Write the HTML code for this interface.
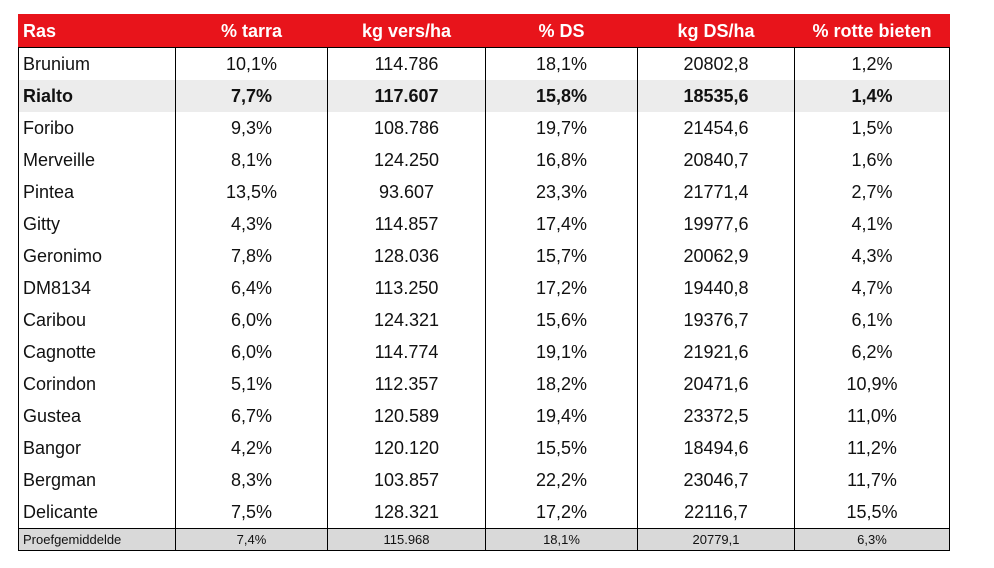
<!DOCTYPE html>
<html><head><meta charset="utf-8"><style>
body{margin:0;width:994px;height:568px;background:#fff;font-family:"Liberation Sans",sans-serif;overflow:hidden;position:relative}
table{position:absolute;left:18px;top:14px;border-collapse:collapse;width:931px;table-layout:fixed}
td,th{padding:0;height:32px;font-size:18px;color:#111;text-align:center;border-left:1px solid #000;border-right:1px solid #000;white-space:nowrap}
th{background:#e8141b;color:#fff;font-weight:bold;height:32px;border:1px solid #e8141b;border-bottom:1px solid #000}
td:first-child,th:first-child{text-align:left;padding-left:4px}
tr.hl td{background:#ececec;font-weight:bold}
tr.foot td{background:#d9d9d9;height:21px;font-size:13px;border:1px solid #000}
tr.last td{border-bottom:1px solid #000}
</style></head><body>
<table>
<colgroup><col style="width:157px"><col style="width:152px"><col style="width:158px"><col style="width:152px"><col style="width:157px"><col style="width:155px"></colgroup>
<tr><th>Ras</th><th>% tarra</th><th>kg vers/ha</th><th>% DS</th><th>kg DS/ha</th><th>% rotte bieten</th></tr>
<tr><td>Brunium</td><td>10,1%</td><td>114.786</td><td>18,1%</td><td>20802,8</td><td>1,2%</td></tr>
<tr class="hl"><td>Rialto</td><td>7,7%</td><td>117.607</td><td>15,8%</td><td>18535,6</td><td>1,4%</td></tr>
<tr><td>Foribo</td><td>9,3%</td><td>108.786</td><td>19,7%</td><td>21454,6</td><td>1,5%</td></tr>
<tr><td>Merveille</td><td>8,1%</td><td>124.250</td><td>16,8%</td><td>20840,7</td><td>1,6%</td></tr>
<tr><td>Pintea</td><td>13,5%</td><td>93.607</td><td>23,3%</td><td>21771,4</td><td>2,7%</td></tr>
<tr><td>Gitty</td><td>4,3%</td><td>114.857</td><td>17,4%</td><td>19977,6</td><td>4,1%</td></tr>
<tr><td>Geronimo</td><td>7,8%</td><td>128.036</td><td>15,7%</td><td>20062,9</td><td>4,3%</td></tr>
<tr><td>DM8134</td><td>6,4%</td><td>113.250</td><td>17,2%</td><td>19440,8</td><td>4,7%</td></tr>
<tr><td>Caribou</td><td>6,0%</td><td>124.321</td><td>15,6%</td><td>19376,7</td><td>6,1%</td></tr>
<tr><td>Cagnotte</td><td>6,0%</td><td>114.774</td><td>19,1%</td><td>21921,6</td><td>6,2%</td></tr>
<tr><td>Corindon</td><td>5,1%</td><td>112.357</td><td>18,2%</td><td>20471,6</td><td>10,9%</td></tr>
<tr><td>Gustea</td><td>6,7%</td><td>120.589</td><td>19,4%</td><td>23372,5</td><td>11,0%</td></tr>
<tr><td>Bangor</td><td>4,2%</td><td>120.120</td><td>15,5%</td><td>18494,6</td><td>11,2%</td></tr>
<tr><td>Bergman</td><td>8,3%</td><td>103.857</td><td>22,2%</td><td>23046,7</td><td>11,7%</td></tr>
<tr class="last"><td>Delicante</td><td>7,5%</td><td>128.321</td><td>17,2%</td><td>22116,7</td><td>15,5%</td></tr>
<tr class="foot"><td>Proefgemiddelde</td><td>7,4%</td><td>115.968</td><td>18,1%</td><td>20779,1</td><td>6,3%</td></tr>
</table>
</body></html>
